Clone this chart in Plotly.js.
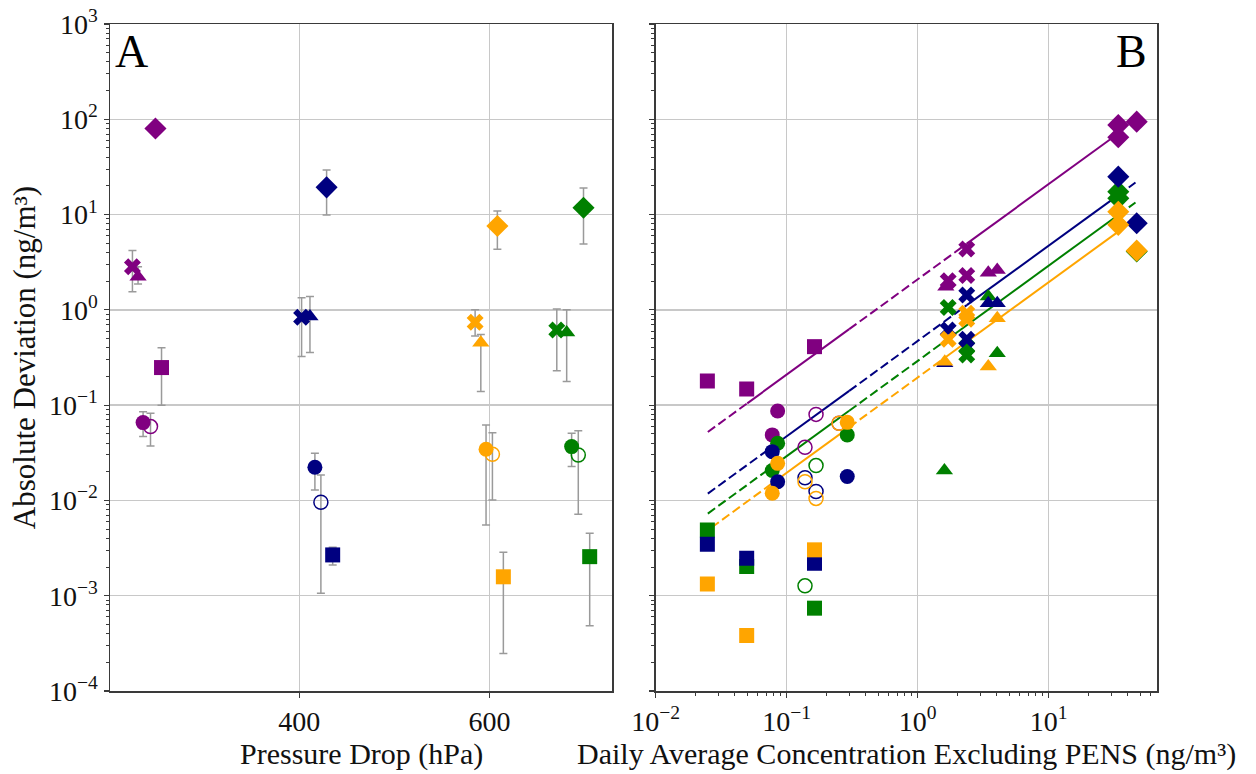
<!DOCTYPE html>
<html>
<head>
<meta charset="utf-8">
<script src="https://cdn.plot.ly/plotly-3.0.1.min.js"></script>
<style>html,body{margin:0;padding:0;background:#fff;}#chart{width:1256px;height:774px;}</style>
</head>
<body>
<div id="chart"></div>
<script>
// ---------- shared ----------
const colorNames = ['purple', 'navy', 'orange', 'green'];
const colors = {purple: '#800080', navy: '#000080', orange: '#FFA500', green: '#008000'};
const yTickVals = [1e-4, 1e-3, 1e-2, 1e-1, 1, 10, 100, 1000];
const yTickText = ['10<sup>−4</sup>', '10<sup>−3</sup>', '10<sup>−2</sup>', '10<sup>−1</sup>', '10<sup>0</sup>', '10<sup>1</sup>', '10<sup>2</sup>', '10<sup>3</sup>'];
const xBTickVals = [0.01, 0.1, 1, 10];
const xBTickText = ['10<sup>−2</sup>', '10<sup>−1</sup>', '10<sup>0</sup>', '10<sup>1</sup>'];
const xATickVals = [400, 600];
const titleA = 'Pressure Drop (hPa)';
const titleB = 'Daily Average Concentration Excluding PENS (ng/m³)';
const titleY = 'Absolute Deviation (ng/m³)';

// ---------- Panel A : pressure drop ----------
// order of points: diamond, x, triangle, square, circle, open circle
const symbolsA = ['diamond', 'x', 'triangle-up', 'square', 'circle', 'circle-open'];
const pressA = {
  purple: [248.8, 224.6, 230.5, 255.2, 235.8, 243.6],
  navy:   [428.8, 402.5, 411.3, 435.2, 416.5, 422.8],
  orange: [608.4, 585.0, 591.0, 614.7, 596.5, 603.2],
  green:  [699.0, 670.9, 681.3, 705.5, 686.5, 693.5]
};
const devA = {
  purple: [80, 2.84, 2.23, 0.248, 0.0656, 0.0596],
  navy:   [19.3, 0.836, 0.85, 0.00268, 0.0223, 0.00957],
  orange: [7.59, 0.741, 0.453, 0.00158, 0.0344, 0.0305],
  green:  [11.8, 0.615, 0.577, 0.00257, 0.0367, 0.030]
};
const devAHigh = {
  purple: [80, 4.2, 2.84, 0.40, 0.0855, 0.082],
  navy:   [29.4, 1.34, 1.38, 0.00323, 0.0313, 0.0185],
  orange: [10.9, 1.0, 0.55, 0.00286, 0.062, 0.0514],
  green:  [19.0, 1.02, 1.0, 0.00453, 0.0507, 0.054]
};
const devALow = {
  purple: [80, 1.55, 1.87, 0.10, 0.0468, 0.0373],
  navy:   [9.9, 0.323, 0.356, 0.0021, 0.0129, 0.00106],
  orange: [4.33, 0.532, 0.139, 0.000248, 0.00553, 0.0101],
  green:  [4.92, 0.23, 0.177, 0.000485, 0.0227, 0.00716]
};

// ---------- Panel B : concentration ----------
const concB = {
  purple: [0.0248, 0.0495, 0.163, 0.0853, 0.0776, 0.1675, 0.138, 0.251, 2.37, 2.37, 1.71, 1.64, 3.46, 4.05, 34, 34, 47],
  green:  [0.0248, 0.0495, 0.163, 0.0853, 0.0776, 0.290, 0.1675, 0.138, 1.71, 2.37, 2.37, 3.46, 4.05, 1.6, 34, 34, 47],
  navy:   [0.0248, 0.0495, 0.163, 0.0776, 0.0853, 0.290, 0.138, 0.1675, 2.37, 1.71, 2.37, 3.46, 4.05, 1.61, 34, 47],
  orange: [0.0248, 0.0495, 0.163, 0.0853, 0.0776, 0.290, 0.138, 0.1675, 0.251, 1.71, 2.37, 2.37, 1.61, 3.46, 4.05, 34, 34, 47]
};
const devB = {
  purple: [0.179, 0.148, 0.411, 0.0869, 0.0487, 0.080, 0.0361, 0.0646, 4.35, 2.29, 2.02, 1.75, 2.45, 2.62, 64.7, 87, 94.4],
  green:  [0.0049, 0.00202, 0.00074, 0.0398, 0.0206, 0.0487, 0.0232, 0.00127, 1.06, 0.406, 0.336, 1.38, 0.351, 0.0206, 17.4, 14.8, 4.1],
  navy:   [0.00347, 0.00247, 0.00219, 0.0325, 0.0157, 0.0178, 0.0173, 0.0124, 1.43, 0.615, 0.491, 1.17, 1.17, 0.275, 25, 8.1],
  orange: [0.00133, 0.000382, 0.00303, 0.0245, 0.0119, 0.066, 0.0157, 0.0105, 0.0646, 0.491, 0.92, 0.796, 0.286, 0.254, 0.817, 10.7, 7.8, 4.18]
};
const symB = {
  purple: ['square','square','square','circle','circle','circle-open','circle-open','circle-open','x','x','x','triangle-up','triangle-up','triangle-up','diamond','diamond','diamond'],
  green:  ['square','square','square','circle','circle','circle','circle-open','circle-open','x','x','x','triangle-up','triangle-up','triangle-up','diamond','diamond','diamond'],
  navy:   ['square','square','square','circle','circle','circle','circle-open','circle-open','x','x','x','triangle-up','triangle-up','triangle-up','diamond','diamond'],
  orange: ['square','square','square','circle','circle','circle','circle-open','circle-open','circle-open','x','x','x','triangle-up','triangle-up','triangle-up','diamond','diamond','diamond']
};

// fitted lines (breakpoints); segments alternate dashed / solid
const fitX = {
  purple: [0.025, 0.05, 0.3, 2.37, 34],
  navy:   [0.025, 0.08, 0.3, 2.37, 34, 46],
  green:  [0.025, 0.08, 0.3, 1.6, 34, 46],
  orange: [0.0267, 0.08, 0.3, 1.6, 34]
};
const fitY = {
  purple: [0.0523, 0.1045, 0.627, 4.95, 71],
  navy:   [0.0118, 0.0377, 0.141, 1.12, 16.0, 21.7],
  green:  [0.00728, 0.0233, 0.0873, 0.466, 9.9, 13.4],
  orange: [0.0052, 0.0156, 0.0585, 0.312, 6.63]
};

const FONT = 'Liberation Serif, Times New Roman, serif';
const traces = [];

function msize(s) {
  return {'diamond': 17, 'x': 15, 'triangle-up': 15, 'square': 15, 'circle': 15, 'circle-open': 14}[s];
}

// panel A traces
for (const c of colorNames) {
  const y = devA[c];
  traces.push({
    type: 'scatter', mode: 'markers', xaxis: 'x', yaxis: 'y',
    x: pressA[c], y: y,
    error_y: {
      type: 'data', symmetric: false,
      array: y.map((v, i) => devAHigh[c][i] - v),
      arrayminus: y.map((v, i) => v - devALow[c][i]),
      color: '#9a9a9a', thickness: 1.5, width: 4
    },
    marker: {
      symbol: symbolsA, color: colors[c], size: symbolsA.map(msize), opacity: 1,
      line: {color: colors[c], width: symbolsA.map(s => s === 'circle-open' ? 1.5 : 0)}
    },
    showlegend: false, hoverinfo: 'x+y'
  });
}

// panel B lines
for (const c of ['purple', 'navy', 'green', 'orange']) {
  const xs = fitX[c], ys = fitY[c];
  for (let i = 0; i < xs.length - 1; i++) {
    traces.push({
      type: 'scatter', mode: 'lines', xaxis: 'x2', yaxis: 'y2',
      x: [xs[i], xs[i + 1]], y: [ys[i], ys[i + 1]],
      line: {color: colors[c], width: 2, dash: (i % 2 === 0) ? '9px,4px' : 'solid'},
      showlegend: false, hoverinfo: 'skip'
    });
  }
}

// panel B markers
for (const c of ['purple', 'green', 'navy', 'orange']) {
  traces.push({
    type: 'scatter', mode: 'markers', xaxis: 'x2', yaxis: 'y2',
    x: concB[c], y: devB[c],
    marker: {
      symbol: symB[c], color: colors[c], size: symB[c].map(msize), opacity: 1,
      line: {color: colors[c], width: symB[c].map(s => s === 'circle-open' ? 1.5 : 0)}
    },
    showlegend: false, hoverinfo: 'x+y'
  });
}

const axisCommon = {
  showline: true, linecolor: '#3a3a3a', linewidth: 1.5, mirror: true,
  showgrid: true, gridcolor: '#c8c8c8', gridwidth: 1.5, zeroline: false,
  ticks: 'outside', ticklen: 5, tickwidth: 1.2, tickcolor: '#3a3a3a',
  tickfont: {family: FONT, size: 28, color: '#111'}
};
const minorLog = {ticks: 'outside', ticklen: 3, tickwidth: 1, tickcolor: '#3a3a3a', dtick: 'D1', showgrid: false};

const layout = {
  width: 1256, height: 774,
  margin: {l: 110, r: 99, t: 24, b: 83},
  paper_bgcolor: '#ffffff', plot_bgcolor: '#ffffff',
  font: {family: FONT, color: '#111'},
  showlegend: false,
  xaxis: Object.assign({}, axisCommon, {
    domain: [0, 0.4795], range: [201, 729], anchor: 'y',
    tickmode: 'array', tickvals: xATickVals, ticktext: ['400', '600'], gridwidth: 1.2
  }),
  yaxis: Object.assign({}, axisCommon, {
    type: 'log', range: [-4, 3], anchor: 'x',
    tickmode: 'array', tickvals: yTickVals, ticktext: yTickText,
    minor: minorLog,
    title: {text: titleY, font: {family: FONT, size: 31, color: '#111'}, standoff: 4}
  }),
  xaxis2: Object.assign({}, axisCommon, {
    type: 'log', domain: [0.5212, 1], range: [-2, 1.827], anchor: 'y2',
    tickmode: 'array', tickvals: xBTickVals, ticktext: xBTickText,
    minor: minorLog
  }),
  yaxis2: Object.assign({}, axisCommon, {
    type: 'log', range: [-4, 3], anchor: 'x2', matches: 'y',
    tickmode: 'array', tickvals: yTickVals, ticktext: yTickText,
    showticklabels: false, minor: minorLog
  }),
  annotations: [
    {text: 'A', xref: 'x domain', yref: 'y domain', x: 0.006, y: 1.0, xanchor: 'left', yanchor: 'top', showarrow: false,
     font: {family: FONT, size: 46, color: '#000'}},
    {text: 'B', xref: 'x2 domain', yref: 'y2 domain', x: 0.985, y: 1.0, xanchor: 'right', yanchor: 'top', showarrow: false,
     font: {family: FONT, size: 46, color: '#000'}},
    {text: titleA, xref: 'x domain', yref: 'paper', x: 0.5, y: -0.0945, xanchor: 'center', yanchor: 'middle', showarrow: false,
     font: {family: FONT, size: 30, color: '#111'}},
    {text: titleB, xref: 'x2 domain', yref: 'paper', x: 0.5, y: -0.0945, xanchor: 'center', yanchor: 'middle', showarrow: false,
     font: {family: FONT, size: 30, color: '#111'}}
  ]
};

Plotly.newPlot('chart', traces, layout, {staticPlot: true, displayModeBar: false});
</script>
</body>
</html>
